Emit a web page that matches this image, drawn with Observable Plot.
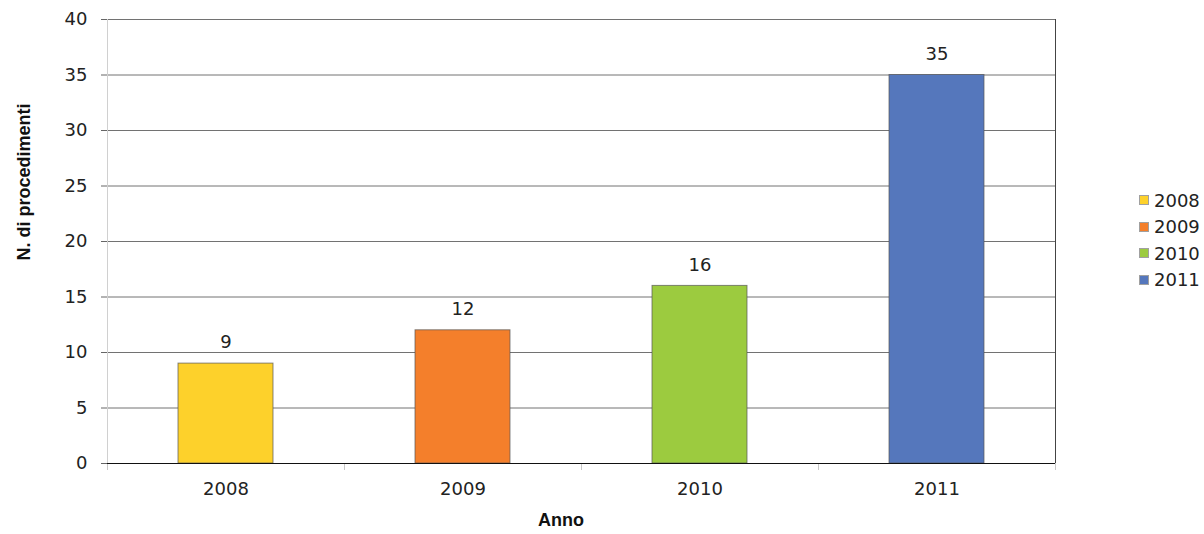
<!DOCTYPE html>
<html>
<head>
<meta charset="utf-8">
<script src="https://cdn.jsdelivr.net/npm/d3@7"></script>
<script src="https://cdn.jsdelivr.net/npm/@observablehq/plot@0.6"></script>
<style>
  html, body { margin: 0; padding: 0; background: #fff; }
  #wrap { position: relative; width: 1204px; height: 534px; overflow: hidden; }
  #wrap svg { position: absolute; left: 0; top: 0; }
  .ytitle { position: absolute; left: 24px; top: 182px; transform: translate(-50%, -50%) rotate(-90deg);
            white-space: nowrap; font: bold 18px "Liberation Sans", Arial, sans-serif; color: #111; }
  .xtitle { position: absolute; left: 561px; top: 520px; transform: translate(-50%, -50%);
            white-space: nowrap; font: bold 18px "Liberation Sans", Arial, sans-serif; color: #111; }
  .legend { position: absolute; left: 1139px; top: 187px; display: flex; flex-direction: column;
            font: 18px "DejaVu Sans", sans-serif; color: #222; }
  .legend .row { display: flex; align-items: center; height: 26.5px; }
  .legend .sw { width: 8px; height: 8px; border: 1px solid #a0a0a0; margin-right: 5px; box-sizing: content-box; }
</style>
</head>
<body>
<div id="wrap"></div>
<script>
const years = ["2008", "2009", "2010", "2011"];
const counts = [9, 12, 16, 35];
const colors = ["#FDD12B", "#F47F2B", "#9CCB3F", "#5577BC"];
const yTicks = [0, 5, 10, 15, 20, 25, 30, 35, 40];
const yTitle = "N. di procedimenti";
const xTitle = "Anno";

const data = years.map((year, i) => ({year, count: counts[i], pos: i}));

const chart = Plot.plot({
  width: 1204,
  height: 534,
  marginLeft: 107,
  marginRight: 149,
  marginTop: 19,
  marginBottom: 71,
  style: {fontFamily: "DejaVu Sans", fontSize: "18px", color: "#222", background: "#fff"},
  x: {type: "linear", domain: [0, years.length]},
  y: {domain: [0, 40]},
  color: {domain: years, range: colors},
  marks: [
    Plot.ruleY(yTicks.filter(t => t > 0), {stroke: "#727272", strokeWidth: 1}),
    Plot.ruleX([0], {stroke: "#d0d0d0"}),
    Plot.ruleX([years.length], {stroke: "#444"}),
    Plot.axisX(d3.range(years.length + 1), {tickSize: 7, tickFormat: () => "", stroke: "#c8c8c8", label: null}),
    Plot.axisX(data.map(d => d.pos + 0.5), {tickSize: 0, tickPadding: 19, tickFormat: v => years[Math.floor(v)], label: null, fill: "#222"}),
    Plot.axisY(yTicks, {tickSize: 6, tickPadding: 14, stroke: "#666", label: null, fill: "#222"}),
    Plot.rectY(data, {x1: "pos", x2: d => d.pos + 1, y: "count", fill: "year", insetLeft: 71, insetRight: 71, stroke: "#555", strokeOpacity: 0.7}),
    Plot.ruleY([0], {stroke: "#111"}),
    Plot.text(data, {x: d => d.pos + 0.5, y: "count", text: d => String(d.count), dy: -21, fontSize: 18, fill: "#222"})
  ]
});

const wrap = document.getElementById("wrap");
wrap.appendChild(chart);

const yt = document.createElement("div");
yt.className = "ytitle"; yt.textContent = yTitle; wrap.appendChild(yt);
const xt = document.createElement("div");
xt.className = "xtitle"; xt.textContent = xTitle; wrap.appendChild(xt);

const legend = document.createElement("div");
legend.className = "legend";
years.forEach((y, i) => {
  const row = document.createElement("div"); row.className = "row";
  const sw = document.createElement("span"); sw.className = "sw"; sw.style.background = colors[i];
  const lab = document.createElement("span"); lab.textContent = y;
  row.appendChild(sw); row.appendChild(lab); legend.appendChild(row);
});
wrap.appendChild(legend);
</script>
</body>
</html>
